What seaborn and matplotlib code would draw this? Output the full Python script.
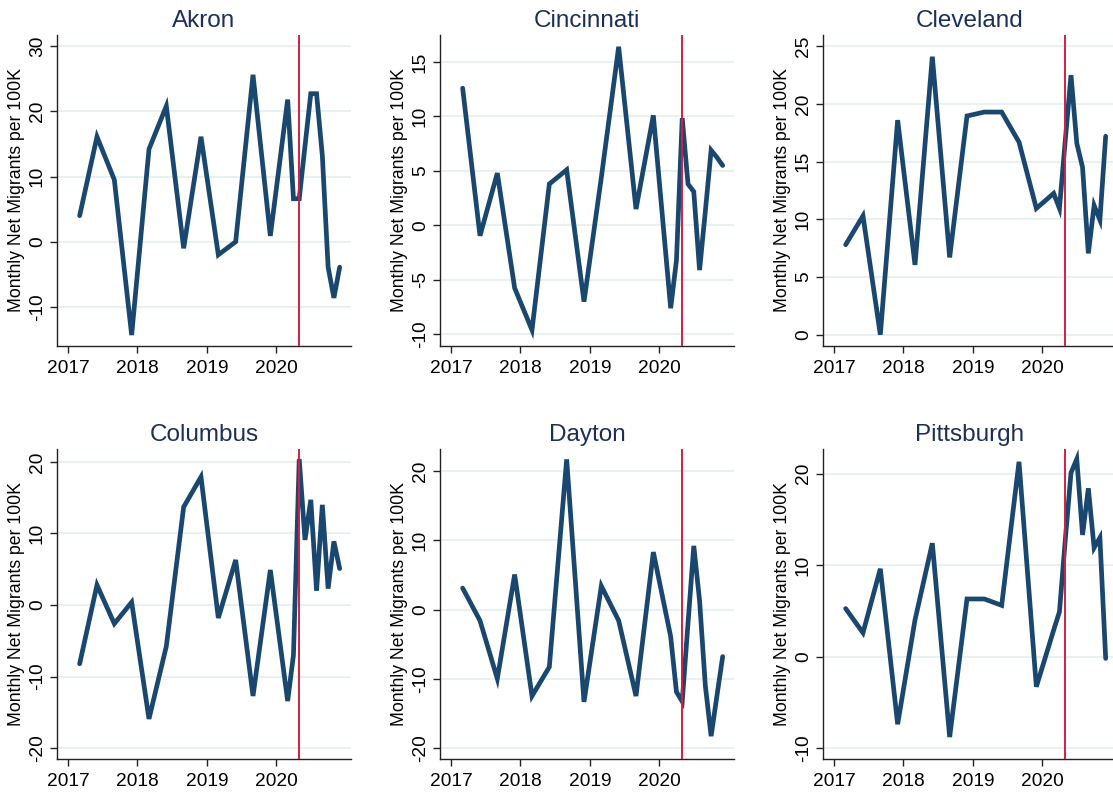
import numpy as np
import pandas as pd
import matplotlib
matplotlib.use("Agg")
import matplotlib.pyplot as plt
import seaborn as sns

# Observation dates: quarterly 2017-2019, then monthly from March 2020
dates = ["2017-03", "2017-06", "2017-09", "2017-12",
         "2018-03", "2018-06", "2018-09", "2018-12",
         "2019-03", "2019-06", "2019-09", "2019-12",
         "2020-03", "2020-04", "2020-05", "2020-06", "2020-07",
         "2020-08", "2020-09", "2020-10", "2020-11", "2020-12"]

cities = ["Akron", "Cincinnati", "Cleveland", "Columbus", "Dayton", "Pittsburgh"]

akron = [4.0, 16.1, 9.5, -14.3, 14.2, 20.8, -1.0, 16.1, -2.0, 0.0, 25.6, 0.9,
         21.8, 6.6, 6.6, 14.7, 22.7, 22.7, 13.2, -3.9, -8.6, -3.9]
cincinnati = [12.6, -0.95, 4.8, -5.75, -9.6, 3.8, 5.1, -7.0, 4.4, 16.4, 1.5, 10.1,
              -7.6, -3.2, 9.85, 3.8, 3.1, -4.1, 1.3, 6.9, 6.25, 5.5]
cleveland = [7.8, 10.3, 0.0, 18.6, 6.05, 24.1, 6.7, 18.96, 19.3, 19.3, 16.7, 10.95,
             12.25, 10.95, 16.8, 22.5, 16.6, 14.5, 7.05, 11.2, 9.95, 17.2]
columbus = [-8.2, 2.8, -2.6, 0.4, -15.9, -5.75, 13.7, 17.9, -1.8, 6.3, -12.7, 4.9,
            -13.4, -7.0, 20.4, 9.1, 14.7, 2.0, 14.0, 2.3, 8.9, 5.1]
dayton = [3.1, -1.6, -10.0, 5.06, -12.5, -8.3, 21.7, -13.35, 3.4, -1.6, -12.5, 8.3,
          -3.9, -11.9, -13.3, -2.0, 9.2, 1.3, -11.0, -18.3, -12.5, -6.8]
pittsburgh = [5.25, 2.6, 9.6, -7.4, 4.0, 12.4, -8.8, 6.3, 6.3, 5.6, 21.3, -3.3,
              2.9, 4.9, 12.7, 20.1, 21.6, 13.3, 18.4, 11.9, 13.0, -0.2]

series = [akron, cincinnati, cleveland, columbus, dayton, pittsburgh]

y_limits = [(-15.98, 31.7), (-11.07, 17.48), (-0.98, 25.98),
            (-21.5, 21.8), (-21.6, 23.2), (-11.2, 22.7)]
y_ticks = [[-10, 0, 10, 20, 30], [-10, -5, 0, 5, 10, 15], [0, 5, 10, 15, 20, 25],
           [-20, -10, 0, 10, 20], [-20, -10, 0, 10, 20], [-10, 0, 10, 20]]
x_ticks = [2017, 2018, 2019, 2020]
policy_date = "2020-05"

def to_year(s):
    y, m = s.split("-")
    return int(y) + (int(m) - 1) / 12.0

years = [to_year(d) for d in dates]

rows = []
for city, vals in zip(cities, series):
    for d, yr, v in zip(dates, years, vals):
        rows.append({"city": city, "date": d, "year": yr, "value": v})
df = pd.DataFrame(rows)

sns.set_theme(style="white")
plt.rcParams["font.family"] = ["Liberation Sans", "DejaVu Sans"]
plt.rcParams["axes.unicode_minus"] = False

LINE = "#1a476f"
TITLE = "#1c2e5c"
RED = "#d11f43"
GRID = "#e8f0f2"

fig = plt.figure(figsize=(11.13, 7.96), dpi=100)
W, H = 1113.0, 796.0
lefts = [57, 440, 823]
tops = [35, 449]
bottoms = [346, 759]
width = 294

for i, city in enumerate(cities):
    r, c = divmod(i, 3)
    l = lefts[c]
    t, b = tops[r], bottoms[r]
    ax = fig.add_axes([l / W, 1 - b / H, width / W, (b - t) / H])
    sub = df[df["city"] == city]
    for yt in y_ticks[i]:
        ax.axhline(yt, color=GRID, lw=1.4, zorder=0)
    sns.lineplot(data=sub, x="year", y="value", ax=ax, color=LINE,
                 linewidth=3.4, solid_joinstyle="miter", zorder=3)
    ax.axvline(to_year(policy_date), color=RED, lw=1.4, zorder=4)
    ax.set_xlim(2016.84, 2021.08)
    ax.set_ylim(*y_limits[i])
    ax.set_xticks(x_ticks)
    ax.set_xticklabels([str(x) for x in x_ticks])
    ax.set_yticks(y_ticks[i])
    ax.set_yticklabels([str(v) for v in y_ticks[i]], rotation=90, va="center")
    ax.set_xlabel("")
    ax.set_ylabel("Monthly Net Migrants per 100K", fontsize=12.7, color="black", labelpad=3)
    ax.set_title(city, fontsize=17.5, color=TITLE, pad=6)
    for side in ["top", "right"]:
        ax.spines[side].set_visible(False)
    for side in ["left", "bottom"]:
        ax.spines[side].set_color("#222222")
        ax.spines[side].set_linewidth(1.0)
    ax.tick_params(axis="both", which="major", direction="out", length=5,
                   width=1.0, color="#222222", labelsize=13.8, labelcolor="black",
                   left=True, bottom=True)
    ax.tick_params(axis="x", pad=5)
    ax.tick_params(axis="y", pad=3)
    ax.grid(False)

fig.savefig("out.png", dpi=100)
